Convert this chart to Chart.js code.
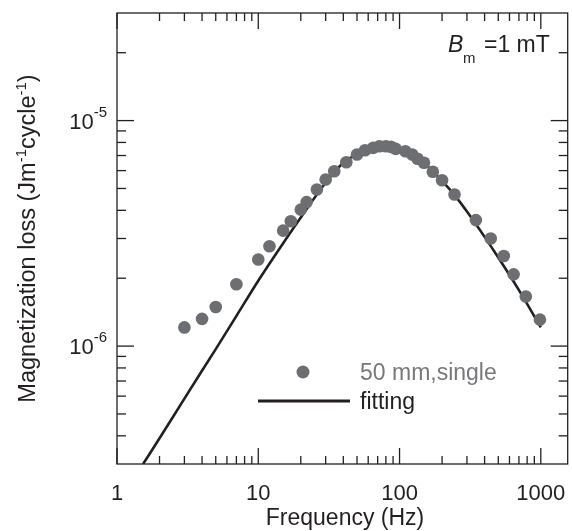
<!DOCTYPE html>
<html>
<head>
<meta charset="utf-8">
<title>Magnetization loss vs frequency</title>
<script src="https://cdn.jsdelivr.net/npm/chart.js@4.4.1/dist/chart.umd.min.js"></script>
<style>
    html, body { margin: 0; padding: 0; background: #ffffff; overflow: hidden; }
    canvas { display: block; }
</style>
</head>
<body>
<canvas id="lossChart" width="574" height="531"></canvas>
<script>

// measured points (50 mm, single)
var freqHz = [3, 4, 5, 7, 10, 12, 15, 17, 20, 22, 26, 30, 34.5, 42, 50, 57, 65, 72, 80, 87, 94, 110, 123, 134, 149, 172, 200, 245, 347, 442, 547, 642, 783, 986];
var lossJ = [1.21e-6, 1.32e-6, 1.49e-6, 1.88e-6, 2.42e-6, 2.77e-6, 3.25e-6, 3.58e-6, 4.03e-6, 4.35e-6, 4.95e-6, 5.48e-6, 5.96e-6, 6.54e-6, 7.07e-6, 7.39e-6, 7.57e-6, 7.70e-6, 7.70e-6, 7.65e-6, 7.49e-6, 7.31e-6, 7.07e-6, 6.77e-6, 6.50e-6, 5.93e-6, 5.44e-6, 4.70e-6, 3.62e-6, 3.00e-6, 2.51e-6, 2.08e-6, 1.66e-6, 1.31e-6];

// fitting curve
var fitFreq = [1.53, 2, 3, 5, 7, 10, 15, 20, 30, 40, 50, 60, 70, 80, 90, 100, 120, 150, 200, 250, 300, 400, 500, 700, 1000];
var fitLoss = [3.0e-7, 3.9e-7, 5.85e-7, 9.7e-7, 1.36e-6, 1.95e-6, 2.86e-6, 3.72e-6, 5.3e-6, 6.5e-6, 7.1e-6, 7.45e-6, 7.65e-6, 7.7e-6, 7.65e-6, 7.5e-6, 7.05e-6, 6.45e-6, 5.4e-6, 4.6e-6, 3.95e-6, 3.05e-6, 2.47e-6, 1.77e-6, 1.21e-6];

// axis ticks
var xMajor = [1, 10, 100, 1000];
var xLabels = ['1', '10', '100', '1000'];
var xMinor = [2, 3, 4, 5, 6, 7, 8, 9, 20, 30, 40, 50, 60, 70, 80, 90, 200, 300, 400, 500, 600, 700, 800, 900];
var yMajor = [1e-6, 1e-5];
var yExp = ['-6', '-5'];
var yMinor = [4e-7, 5e-7, 6e-7, 7e-7, 8e-7, 9e-7, 2e-6, 3e-6, 4e-6, 5e-6, 6e-6, 7e-6, 8e-6, 9e-6, 2e-5];

var ink = '#231f20';
var dotGray = '#6d6e71';
var textGray = '#77787b';
var fontFam = '"Liberation Sans", Arial, Helvetica, sans-serif';

function toXY(xs, ys) {
    return xs.map(function (v, i) { return { x: v, y: ys[i] }; });
}

// draws a run of text pieces (for superscripts) starting at x
function drawParts(ctx, parts, x, y, align) {
    var total = 0;
    parts.forEach(function (p) {
        ctx.font = (p.italic ? 'italic ' : '') + p.size + 'px ' + fontFam;
        p.w = ctx.measureText(p.t).width;
        total += p.w;
    });
    var cx = x;
    if (align === 'center') cx = x - total / 2;
    if (align === 'right') cx = x - total;
    ctx.textAlign = 'left';
    ctx.textBaseline = 'alphabetic';
    parts.forEach(function (p) {
        ctx.font = (p.italic ? 'italic ' : '') + p.size + 'px ' + fontFam;
        ctx.fillText(p.t, cx, y + (p.dy || 0));
        cx += p.w;
    });
}

const frameTicks = {
    id: 'frameTicks',
    afterDatasetsDraw(chart) {
        const ctx = chart.ctx;
        const a = chart.chartArea;
        const xs = chart.scales.x;
        const ys = chart.scales.y;

        ctx.save();
        ctx.strokeStyle = ink;
        ctx.lineWidth = 1.3;
        ctx.strokeRect(a.left, a.top, a.right - a.left, a.bottom - a.top);

        function seg(x1, y1, x2, y2) {
            ctx.beginPath();
            ctx.moveTo(x1, y1);
            ctx.lineTo(x2, y2);
            ctx.stroke();
        }

        xMajor.forEach(function (v) {
            var px = xs.getPixelForValue(v);
            seg(px, a.bottom, px, a.bottom - 16);
            seg(px, a.top, px, a.top + 16);
        });
        xMinor.forEach(function (v) {
            var px = xs.getPixelForValue(v);
            seg(px, a.bottom, px, a.bottom - 8);
            seg(px, a.top, px, a.top + 8);
        });
        yMajor.forEach(function (v) {
            var py = ys.getPixelForValue(v);
            seg(a.left, py, a.left + 17, py);
            seg(a.right, py, a.right - 17, py);
        });
        yMinor.forEach(function (v) {
            var py = ys.getPixelForValue(v);
            seg(a.left, py, a.left + 9, py);
            seg(a.right, py, a.right - 9, py);
        });

        // tick labels
        ctx.fillStyle = ink;
        xMajor.forEach(function (v, i) {
            var px = xs.getPixelForValue(v);
            drawParts(ctx, [{ t: xLabels[i], size: 22 }], px, a.bottom + 36, 'center');
        });
        yMajor.forEach(function (v, i) {
            var py = ys.getPixelForValue(v);
            drawParts(ctx, [{ t: '10', size: 22 }, { t: yExp[i], size: 15, dy: -12 }], 107, py + 8, 'right');
        });

        // axis titles
        drawParts(ctx, [{ t: 'Frequency (Hz)', size: 23 }], 345, 525, 'center');

        ctx.save();
        ctx.translate(35, (a.top + a.bottom) / 2);
        ctx.rotate(-Math.PI / 2);
        drawParts(ctx, [
            { t: 'Magnetization loss (Jm', size: 23.5 },
            { t: '-1', size: 15, dy: -9 },
            { t: 'cycle', size: 23.5 },
            { t: '-1', size: 15, dy: -9 },
            { t: ')', size: 23.5 }
        ], 0, 0, 'center');
        ctx.restore();

        // B_m = 1 mT
        drawParts(ctx, [{ t: 'B', size: 23, italic: true }], 448, 52, 'left');
        drawParts(ctx, [{ t: 'm', size: 15 }], 463, 63, 'left');
        drawParts(ctx, [{ t: '=1 mT', size: 23 }], 484, 52, 'left');

        // legend
        ctx.fillStyle = dotGray;
        ctx.beginPath();
        ctx.arc(303, 372, 6.5, 0, Math.PI * 2);
        ctx.fill();
        ctx.fillStyle = textGray;
        drawParts(ctx, [{ t: '50 mm,single', size: 23 }], 360, 380, 'left');

        ctx.strokeStyle = ink;
        ctx.lineWidth = 3;
        seg(258, 401, 350, 401);
        ctx.fillStyle = ink;
        drawParts(ctx, [{ t: 'fitting', size: 23 }], 360, 409, 'left');

        ctx.restore();
    }
};

var ctx = document.getElementById('lossChart').getContext('2d');
var myChart = new Chart(ctx, {
    type: 'scatter',
    data: {
        datasets: [{
            label: '50 mm,single',
            data: toXY(freqHz, lossJ),
            pointRadius: 6.3,
            pointBackgroundColor: dotGray,
            pointBorderWidth: 0,
            showLine: false
        }, {
            label: 'fitting',
            data: toXY(fitFreq, fitLoss),
            showLine: true,
            pointRadius: 0,
            borderColor: ink,
            borderWidth: 2.6,
            cubicInterpolationMode: 'monotone',
            fill: false
        }]
    },
    options: {
        responsive: false,
        maintainAspectRatio: false,
        devicePixelRatio: 1,
        animation: false,
        layout: { padding: { top: 13, left: 0, right: 0, bottom: 0 } },
        plugins: {
            legend: { display: false },
            tooltip: { enabled: false }
        },
        scales: {
            x: {
                type: 'logarithmic',
                min: 1,
                max: 1550,
                grid: { display: false },
                border: { display: false },
                ticks: { display: false },
                afterFit: function (scale) { scale.height = 67; }
            },
            y: {
                type: 'logarithmic',
                min: 3e-7,
                max: 3e-5,
                grid: { display: false },
                border: { display: false },
                ticks: { display: false },
                afterFit: function (scale) { scale.width = 117; }
            }
        }
    },
    plugins: [frameTicks]
});
</script>
</body>
</html>
